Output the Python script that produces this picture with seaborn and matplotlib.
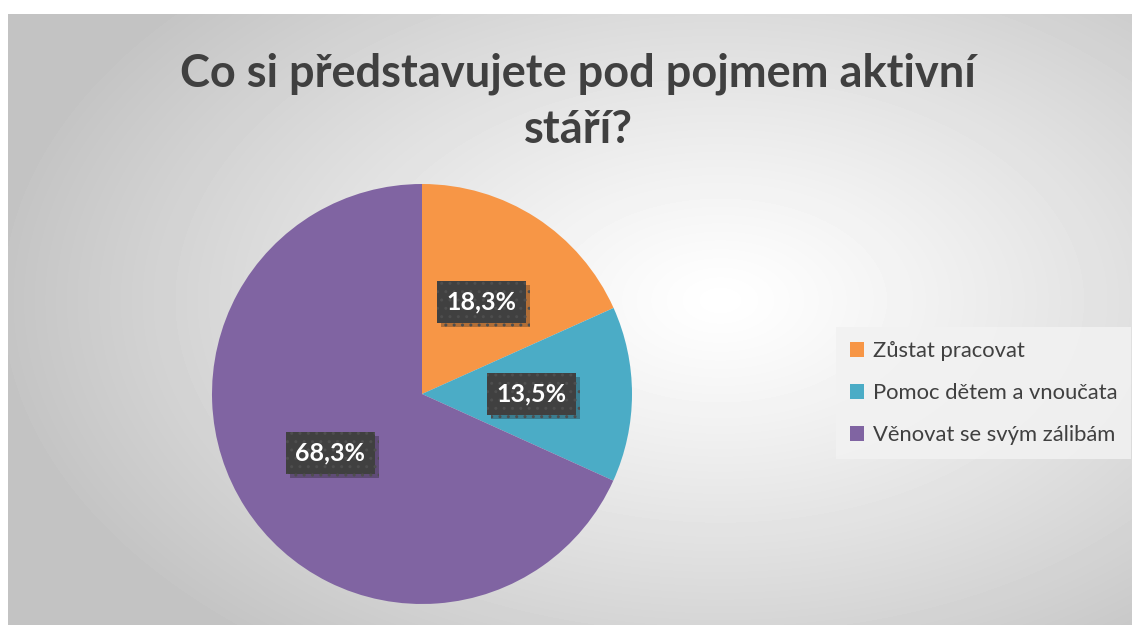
import numpy as np
import matplotlib
matplotlib.use("Agg")
import matplotlib.pyplot as plt
import matplotlib.patheffects as pe
import seaborn as sns

# data
categories = ["Zůstat pracovat", "Pomoc dětem a vnoučata", "Věnovat se svým zálibám"]
shares = [18.3, 13.5, 68.3]
colors = ["#F79646", "#4BACC6", "#8064A2"]
title = "Co si představujete pod pojmem aktivní\nstáří?"

sns.set_style("white")
plt.rcParams['font.family'] = ['Lato', 'DejaVu Sans']

W, H = 1132, 625
fig = plt.figure(figsize=(W / 100, H / 100), dpi=100)
fig.patch.set_facecolor("white")

# radial grey background of the chart area
bg = fig.add_axes([8 / W, 0, (W - 8) / W, (H - 14) / H])
yy, xx = np.mgrid[14:H, 8:W]
d = np.sqrt(((xx - 720) / 720.0) ** 2 + ((yy - 300) / 440.0) ** 2)
shade = 255 - 59 * np.clip(d, 0, 1) ** 1.15
bg.imshow(shade, cmap="gray", vmin=0, vmax=255, aspect="auto",
          interpolation="bilinear")
bg.axis("off")

# pie
cx, cy, r = 422, 394, 210
ax = fig.add_axes([(cx - r) / W, (H - cy - r) / H, 2 * r / W, 2 * r / H])
wedges, _ = ax.pie(shares, colors=colors, startangle=90, counterclock=False,
                   wedgeprops=dict(linewidth=0))
ax.set_xlim(-1, 1)
ax.set_ylim(-1, 1)
ax.axis("off")

for w, v in zip(wedges, shares):
    ang = np.deg2rad((w.theta1 + w.theta2) / 2)
    dist = 0.52
    t = ax.text(dist * np.cos(ang), dist * np.sin(ang),
                f"{v:.1f}%".replace(".", ","), ha="center", va="center",
                fontsize=18, fontweight="bold", color="white",
                bbox=dict(boxstyle="square,pad=0.38", facecolor="#404040",
                          edgecolor="#4e4e4e", linewidth=0, hatch=".."))
    t.get_bbox_patch().set_path_effects(
        [pe.SimplePatchShadow(offset=(3, -3), alpha=0.3), pe.Normal()])

leg = fig.legend(wedges, categories, loc="center left",
                 bbox_to_anchor=(836 / W, 1 - 393 / H), frameon=True,
                 borderaxespad=0, fontsize=15.8, handlelength=0.65,
                 handleheight=0.65, handletextpad=0.4, labelspacing=1.0,
                 borderpad=0.62, labelcolor="#404040")
frame = leg.get_frame()
frame.set_facecolor("#f2f2f2")
frame.set_alpha(0.85)
frame.set_edgecolor("none")
frame.set_boxstyle("square,pad=0")

fig.text(578 / W, 1 - 102 / H, title, ha="center", va="center",
         fontsize=32.5, fontweight="bold", color="#404040", linespacing=1.42)

fig.savefig("out.png", dpi=100)
